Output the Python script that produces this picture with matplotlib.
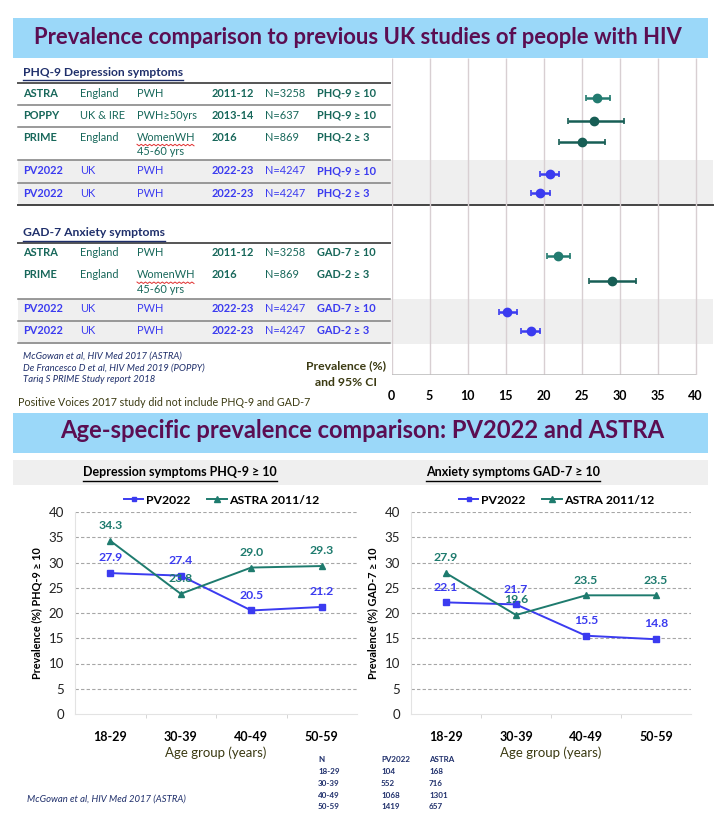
import numpy as np
import matplotlib
matplotlib.use('Agg')
import matplotlib.pyplot as plt

plt.rcParams['font.family'] = ['Lato', 'DejaVu Sans']

# ---- data: forest plot (prevalence %, 95% CI) ----
dep_study = ['ASTRA', 'POPPY', 'PRIME', 'PV2022', 'PV2022']
dep_region = ['England', 'UK & IRE', 'England', 'UK', 'UK']
dep_pop = ['PWH', 'PWH≥50yrs', 'WomenWH\n45-60 yrs', 'PWH', 'PWH']
dep_year = ['2011-12', '2013-14', '2016', '2022-23', '2022-23']
dep_n = ['N=3258', 'N=637', 'N=869', 'N=4247', 'N=4247']
dep_measure = ['PHQ-9 ≥ 10', 'PHQ-9 ≥ 10', 'PHQ-2 ≥ 3', 'PHQ-9 ≥ 10', 'PHQ-2 ≥ 3']
dep_est = [27.1, 26.7, 25.0, 20.8, 19.5]
dep_lo = [25.6, 23.2, 22.1, 19.5, 18.3]
dep_hi = [28.8, 30.6, 28.1, 22.1, 20.9]

anx_study = ['ASTRA', 'PRIME', 'PV2022', 'PV2022']
anx_region = ['England', 'England', 'UK', 'UK']
anx_pop = ['PWH', 'WomenWH\n45-60 yrs', 'PWH', 'PWH']
anx_year = ['2011-12', '2016', '2022-23', '2022-23']
anx_n = ['N=3258', 'N=869', 'N=4247', 'N=4247']
anx_measure = ['GAD-7 ≥ 10', 'GAD-2 ≥ 3', 'GAD-7 ≥ 10', 'GAD-2 ≥ 3']
anx_est = [21.9, 29.0, 15.2, 18.3]
anx_lo = [20.5, 26.0, 14.1, 17.0]
anx_hi = [23.5, 32.2, 16.5, 19.6]

# ---- data: age-specific comparison ----
age_groups = ['18-29', '30-39', '40-49', '50-59']
phq_pv = [27.9, 27.4, 20.5, 21.2]
phq_astra = [34.3, 23.8, 29.0, 29.3]
gad_pv = [22.1, 21.7, 15.5, 14.8]
gad_astra = [27.9, 19.6, 23.5, 23.5]
n_pv = [104, 552, 1068, 1419]
n_astra = [168, 716, 1301, 657]

# colours
BAND = '#9BD8F9'
PURPLE = '#5B0E52'
NAVY = '#1F2F6B'
TEAL = '#17675A'
TEAL_M = ['#227B70', '#175E55', '#175E55']
BLUE = '#3B3BF0'
OLIVE = '#3B3A12'
GREYBG = '#EFEFEF'

W, H = 722, 827
fig = plt.figure(figsize=(W / 100, H / 100), dpi=100)
bg = fig.add_axes([0, 0, 1, 1])
bg.set_xlim(0, W)
bg.set_ylim(H, 0)
bg.axis('off')
r = fig.canvas.get_renderer()


def px_axes(x0, y0, x1, y1):
    return fig.add_axes([x0 / W, 1 - y1 / H, (x1 - x0) / W, (y1 - y0) / H])


def fit(t, width):
    w = t.get_window_extent(r).width
    t.set_fontsize(t.get_fontsize() * width / w)


def underline(t, dy, color, lw=1.0):
    bb = t.get_window_extent(r)
    inv = bg.transData.inverted()
    (x0, y0), (x1, y1) = inv.transform([[bb.x0, bb.y0], [bb.x1, bb.y1]])
    bg.plot([x0, x1], [y0 + dy, y0 + dy], color=color, lw=lw)


# ---- title bands ----
bg.add_patch(plt.Rectangle((13, 18), 695, 40, color=BAND, lw=0))
t = bg.text(358, 37, 'Prevalence comparison to previous UK studies of people with HIV',
            ha='center', va='center', color=PURPLE, fontsize=14, fontweight='bold')
fit(t, 650)

bg.add_patch(plt.Rectangle((13, 413), 695, 40, color=BAND, lw=0))
t = bg.text(362, 431, 'Age-specific prevalence comparison: PV2022 and ASTRA',
            ha='center', va='center', color=PURPLE, fontsize=16, fontweight='bold')
fit(t, 608)
bg.add_patch(plt.Rectangle((13, 460), 695, 25, color=GREYBG, lw=0))

# ---- table (left of forest plot) ----
col_x = [23, 80, 137, 212, 265, 317]
col_bold = [True, False, False, True, False, True]

# grey bands behind PV2022 rows
bg.add_patch(plt.Rectangle((18, 160), 695, 45, color=GREYBG, lw=0))
bg.add_patch(plt.Rectangle((18, 299), 695, 45, color=GREYBG, lw=0))


def draw_table(cols, ys):
    for i, y in enumerate(ys):
        c = BLUE if cols[0][i] == 'PV2022' else TEAL
        for j, col in enumerate(cols):
            for k, line in enumerate(col[i].split('\n')):
                bg.text(col_x[j], y + 14.5 * k, line, ha='left', va='center',
                        color=c, fontsize=7.9,
                        fontweight='bold' if col_bold[j] else 'normal')
            if '\n' in col[i]:
                zx = np.linspace(col_x[j], col_x[j] + 57, 28)
                zy = y + 7.5 + np.where(np.arange(28) % 2, 1.0, -0.5)
                bg.plot(zx, zy, color='#E03030', lw=0.7)


dep_text_y = [93.3, 115.3, 137.3, 171, 193.3]
anx_text_y = [252.3, 275, 308.3, 330]
draw_table([dep_study, dep_region, dep_pop, dep_year, dep_n, dep_measure], dep_text_y)
draw_table([anx_study, anx_region, anx_pop, anx_year, anx_n, anx_measure], anx_text_y)

for y in [105, 126.7, 160, 183.3, 298.7, 321.3, 343.3]:
    bg.plot([18, 390], [y, y], color='#7F7F7F', lw=1.1)
for y in [82.5, 242.7]:
    bg.plot([18, 390], [y, y], color='#555555', lw=1.4)
bg.plot([18, 713], [205, 205], color='#444444', lw=1.4)

t = bg.text(23, 72, 'PHQ-9 Depression symptoms', ha='left', va='center',
            color=NAVY, fontsize=8.5, fontweight='bold')
fit(t, 160)
underline(t, 2.5, NAVY)
t = bg.text(23, 233, 'GAD-7 Anxiety symptoms', ha='left', va='center',
            color=NAVY, fontsize=8.5, fontweight='bold')
fit(t, 141)
underline(t, 2.5, NAVY)

refs = ['McGowan et al, HIV Med 2017 (ASTRA)',
        'De Francesco D et al, HIV Med 2019 (POPPY)',
        'Tariq S PRIME Study report 2018']
for i, s in enumerate(refs):
    bg.text(23, 356 + 12 * i, s, ha='left', va='center', color=NAVY,
            fontsize=6.8, style='italic')
bg.text(346, 366, 'Prevalence (%)', ha='center', va='center', color=OLIVE,
        fontsize=8.8, fontweight='bold')
bg.text(346, 382, 'and 95% CI', ha='center', va='center', color=OLIVE,
        fontsize=8.8, fontweight='bold')
t = bg.text(18, 402, 'Positive Voices 2017 study did not include PHQ-9 and GAD-7',
            ha='left', va='center', color=OLIVE, fontsize=7)
fit(t, 290)

# ---- forest plot ----
fx = px_axes(391.5, 58, 713, 375)
fx.set_facecolor('none')
fx.set_xlim(0, (713 - 391.5) / 7.6)
fx.set_ylim(375, 58)
fx.vlines(np.arange(0, 45, 5), 58, 375, color='#D8CFD2', lw=1.0, zorder=1)
fx.hlines(375, 0, 40, color='#BFBFBF', lw=1.2, zorder=1)
for spine in fx.spines.values():
    spine.set_visible(False)
fx.set_yticks([])
fx.set_xticks(np.arange(0, 45, 5))
fx.tick_params(axis='x', length=0, pad=11, labelsize=9)
for lab in fx.get_xticklabels():
    lab.set_fontweight('bold')

dep_mark_y = [98, 120.7, 142.3, 174, 193]
anx_mark_y = [255.7, 280.7, 312.3, 331.3]
for study, est, lo, hi, ys in [(dep_study, dep_est, dep_lo, dep_hi, dep_mark_y),
                               (anx_study, anx_est, anx_lo, anx_hi, anx_mark_y)]:
    k = 0
    for i in range(len(est)):
        if study[i] == 'PV2022':
            c = BLUE
        else:
            c = TEAL_M[min(k, 2)]
            k += 1
        fx.errorbar(est[i], ys[i], xerr=[[est[i] - lo[i]], [hi[i] - est[i]]],
                    fmt='o', ms=6, color=c, ecolor=c, elinewidth=1.8,
                    capsize=2, capthick=1.2, zorder=3)

# ---- age-specific line charts ----
panels = [
    (75, 357, phq_pv, phq_astra, 'Prevalence (%) PHQ-9 ≥ 10',
     'Depression symptoms PHQ-9 ≥ 10', 180),
    (411, 691, gad_pv, gad_astra, 'Prevalence (%) GAD-7 ≥ 10',
     'Anxiety symptoms GAD-7 ≥ 10', 513),
]
xs = np.arange(len(age_groups))
for x0, x1, pv, astra, ylab, sub, sub_x in panels:
    ax = px_axes(x0, 512, x1, 714)
    ax.set_facecolor('none')
    ax.set_xlim(-0.5, 3.5)
    ax.set_ylim(0, 40)
    ax.set_yticks(np.arange(0, 45, 5))
    for yv in np.arange(5, 45, 5):
        ax.axhline(yv, color='#A6A6A6', lw=0.8, ls=(0, (3, 2)), zorder=1)
    for side in ['top', 'right']:
        ax.spines[side].set_visible(False)
    ax.spines['left'].set_color('#E3E3E3')
    ax.spines['bottom'].set_color('#E3E3E3')
    ax.plot(xs, pv, color=BLUE, lw=1.4, marker='s', ms=4, label='PV2022', zorder=3)
    ax.plot(xs, astra, color='#1E7B6E', lw=1.4, marker='^', ms=5,
            label='ASTRA 2011/12', zorder=3)
    for i in xs:
        ax.annotate(f'{pv[i]:.1f}', (i, pv[i]), xytext=(0, 11),
                    textcoords='offset points', ha='center', va='center',
                    color=BLUE, fontsize=8.8, fontweight='bold', zorder=4)
        ax.annotate(f'{astra[i]:.1f}', (i, astra[i]), xytext=(0, 11),
                    textcoords='offset points', ha='center', va='center',
                    color='#1E7B6E', fontsize=8.8, fontweight='bold', zorder=4)
    ax.set_xticks(xs)
    ax.set_xticklabels(age_groups, fontweight='bold')
    ax.set_xticks(xs[1:] - 0.5, minor=True)
    ax.tick_params(axis='x', which='major', length=0, pad=12, labelsize=9)
    ax.tick_params(axis='x', which='minor', length=3, color='#D0D0D0')
    ax.tick_params(axis='y', length=0, pad=8, labelsize=9.5, labelcolor='#222222')
    ax.set_ylabel(ylab, fontsize=7.8, fontweight='bold')
    ax.yaxis.set_label_coords(-0.118, 0.5)
    ax.set_xlabel('Age group (years)', fontsize=9.5, color=OLIVE, labelpad=3)
    ax.legend(loc='lower center', bbox_to_anchor=(0.52, 0.995), ncol=2,
              frameon=False, handlelength=1.6, markerscale=0.8,
              handletextpad=0.2, columnspacing=1.4, borderpad=0.1,
              prop={'weight': 'bold', 'size': 8.8})
    t = bg.text(sub_x, 472, sub, ha='center', va='center', color='black',
                fontsize=9, fontweight='bold')
    underline(t, 2.5, 'black')

# ---- N table ----
n_cols_x = [318, 381, 429]
hdr = ['N', 'PV2022', 'ASTRA']
for j, h in enumerate(hdr):
    bg.text(n_cols_x[j], 760, h, ha='left', va='center', color=NAVY,
            fontsize=5.8, fontweight='bold')
for i, g in enumerate(age_groups):
    y = 771.5 + 11.8 * i
    for j, v in enumerate([g, str(n_pv[i]), str(n_astra[i])]):
        bg.text(n_cols_x[j], y, v, ha='left', va='center', color=NAVY,
                fontsize=5.8, fontweight='bold')

bg.text(27, 799, 'McGowan et al, HIV Med 2017 (ASTRA)', ha='left', va='center',
        color=NAVY, fontsize=6.8, style='italic')

fig.savefig('out.png', dpi=100)
